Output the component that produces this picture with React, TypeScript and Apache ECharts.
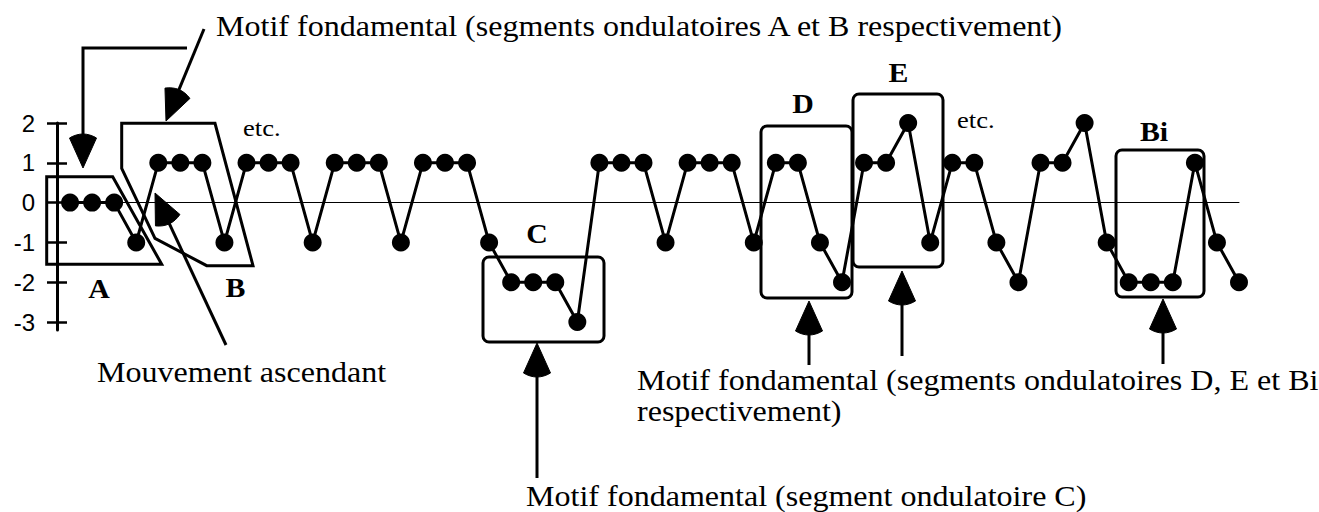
import { useEffect, useRef } from 'react';
import * as echarts from 'echarts';

// Melodic contour values (one per note, step index = position)
const contour = [
  0, 0, 0, -1,
  1, 1, 1, -1,
  1, 1, 1, -1,
  1, 1, 1, -1,
  1, 1, 1, -1,
  -2, -2, -2, -3,
  1, 1, 1, -1,
  1, 1, 1, -1,
  1, 1, -1, -2,
  1, 1, 2, -1,
  1, 1, -1, -2,
  1, 1, 2, -1,
  -2, -2, -2, 1,
  -1, -2,
];
const yTicks = [-3, -2, -1, 0, 1, 2];

const topCaption = 'Motif fondamental (segments ondulatoires A et B respectivement)';
const risingCaption = 'Mouvement ascendant';
const cCaption = 'Motif fondamental (segment ondulatoire C)';
const debCaption1 = 'Motif fondamental (segments ondulatoires D, E et Bi';
const debCaption2 = 'respectivement)';

const SERIF = '"Liberation Serif", "Times New Roman", serif';
const SANS = '"Liberation Sans", Arial, sans-serif';
const SX = 1.105;
const LW = 3;

function txt(t: string, x: number, base: number, size: number, bold = false, align = 'left') {
  return {
    type: 'text',
    x,
    y: base - 0.3375 * size,
    scaleX: SX,
    z: 10,
    style: {
      text: t,
      fontFamily: SERIF,
      fontSize: size,
      fontWeight: bold ? 'bold' : 'normal',
      fill: '#000',
      align,
      verticalAlign: 'middle',
    },
  };
}

function head(fx: number, fy: number, tx: number, ty: number, len = 30, hw = 13.5) {
  const dx = tx - fx, dy = ty - fy;
  const L = Math.hypot(dx, dy);
  const ux = dx / L, uy = dy / L;
  const px = -uy, py = ux;
  const bx = tx - ux * len, by = ty - uy * len;
  const pts: number[][] = [[tx, ty]];
  const bulge = 4;
  for (let k = 1; k >= -1.0001; k -= 0.25) {
    const back = bulge * (1 - k * k);
    pts.push([bx + px * hw * k - ux * back, by + py * hw * k - uy * back]);
  }
  return {
    base: [bx + ux * 2, by + uy * 2],
    el: { type: 'polygon', z: 10, shape: { points: pts }, style: { fill: '#000', stroke: '#000', lineWidth: 1 } },
  };
}

function arrow(x1: number, y1: number, tx: number, ty: number) {
  const h = head(x1, y1, tx, ty);
  return [
    { type: 'line', z: 10, shape: { x1, y1, x2: h.base[0], y2: h.base[1] }, style: { stroke: '#000', lineWidth: LW } },
    h.el,
  ];
}

function box(x: number, y: number, w: number, h: number) {
  return { type: 'rect', z: 10, shape: { x, y, width: w, height: h, r: 6 }, style: { fill: 'none', stroke: '#000', lineWidth: LW } };
}

function poly(points: number[][]) {
  return { type: 'polygon', z: 10, shape: { points }, style: { fill: 'none', stroke: '#000', lineWidth: LW, lineJoin: 'miter' } };
}

export default function App() {
  const ref = useRef<HTMLDivElement>(null);
  useEffect(() => {
    if (!ref.current) return;
    const chart = echarts.init(ref.current, undefined, { renderer: 'svg' });
    const data = contour.map((v, i) => [i, v]);
    const firstHead = head(83, 48, 83, 168);
    const graphic: any[] = [
      // top-left bracket arrow to A
      { type: 'polyline', z: 10, shape: { points: [[187, 48], [83, 48], firstHead.base] }, style: { stroke: '#000', lineWidth: LW, fill: 'none' } },
      firstHead.el,
      ...arrow(204, 29, 166, 121),
      ...arrow(226, 345, 155, 193),
      ...arrow(537, 478, 537, 343),
      ...arrow(809, 365, 809, 301),
      ...arrow(902, 356, 902, 271),
      ...arrow(1163, 364, 1163, 299),
      poly([[46.7, 176.7], [112.7, 176.7], [161.7, 264.3], [46.7, 264.3]]),
      poly([[121.7, 123.3], [215, 123.3], [253, 265.7], [206.7, 265.7], [155, 238.3], [121.7, 168.3]]),
      box(483, 257, 121, 85),
      box(761, 126, 91, 172),
      box(853, 94, 90, 173),
      box(1116, 150, 88, 147),
      txt(topCaption, 216, 36, 29),
      txt(risingCaption, 97, 382, 29),
      txt(cCaption, 526, 506, 29),
      txt(debCaption1, 637, 390, 29),
      txt(debCaption2, 637, 421, 29),
      txt('A', 99, 298, 27, true, 'center'),
      txt('B', 235.5, 297, 27, true, 'center'),
      txt('C', 537, 243, 27, true, 'center'),
      txt('D', 803, 113, 27, true, 'center'),
      txt('E', 898.5, 82, 27, true, 'center'),
      txt('Bi', 1154, 141, 27, true, 'center'),
      txt('etc.', 243, 136, 24),
      txt('etc.', 957, 128, 24),
    ];
    chart.setOption({
      animation: false,
      backgroundColor: '#fff',
      grid: { left: 48, right: 80, top: 123, bottom: 512 - 330 },
      xAxis: {
        type: 'value',
        min: -1,
        max: 53,
        axisLine: { show: true, onZero: true, lineStyle: { color: '#000', width: 1 } },
        axisTick: { show: false },
        axisLabel: { show: false },
        splitLine: { show: false },
      },
      yAxis: [
        {
          type: 'value',
          min: -3.2,
          max: 2,
          offset: -9,
          position: 'left',
          axisLine: { show: true, onZero: false, lineStyle: { color: '#000', width: LW } },
          axisTick: { show: true, customValues: yTicks, inside: false, length: 10, lineStyle: { color: '#000', width: 2.5 } },
          axisLabel: { show: true, customValues: yTicks, margin: 22, color: '#000', fontFamily: SANS, fontSize: 24 },
          splitLine: { show: false },
        },
        {
          type: 'value',
          min: -3.2,
          max: 2,
          offset: -9,
          position: 'left',
          axisLine: { show: false, onZero: false },
          axisTick: { show: true, customValues: yTicks, inside: true, length: 10, lineStyle: { color: '#000', width: 2.5 } },
          axisLabel: { show: false },
          splitLine: { show: false },
        },
      ],
      series: [
        {
          type: 'line',
          data,
          yAxisIndex: 0,
          symbol: 'circle',
          symbolSize: 18,
          itemStyle: { color: '#000' },
          lineStyle: { color: '#000', width: LW },
          z: 5,
        },
      ],
      graphic,
    });
    return () => chart.dispose();
  }, []);
  return <div ref={ref} style={{ position: 'fixed', left: 0, top: 0, width: 1319, height: 512, background: '#fff' }} />;
}
